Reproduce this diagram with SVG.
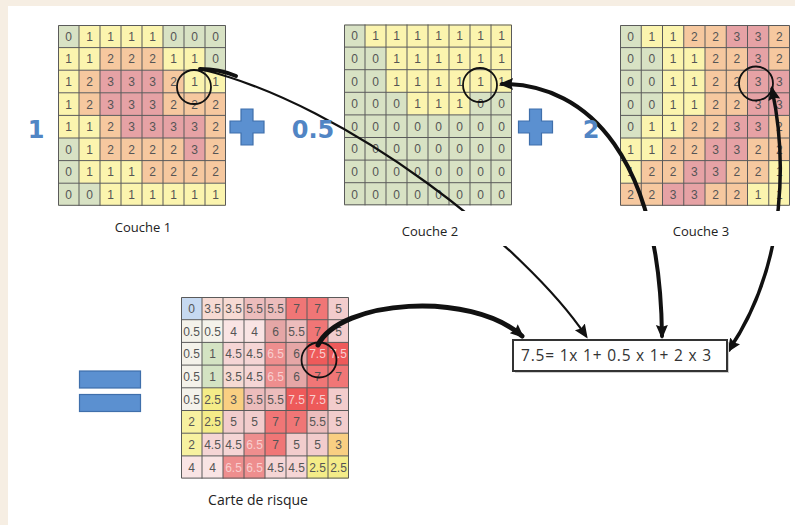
<svg xmlns="http://www.w3.org/2000/svg" width="795" height="525" viewBox="0 0 795 525">
<defs>
<style>
.c0{fill:#d8e2c4}.c1{fill:#fbf4ae}.c2{fill:#f6c89f}.c3{fill:#e6a2a5}
.r0{fill:#c6d9f1}.r05{fill:#f4f2ea}.r1{fill:#d4e3c3}.r2{fill:#f7f1a0}.r25{fill:#f4ec88}.r3{fill:#f9cf82}
.r35{fill:#f6dad3}.r4{fill:#f9e4e4}.r45{fill:#f5d5d5}.r5{fill:#f2cccc}.r55{fill:#ecbcbc}.r6{fill:#e5a6a6}
.r65{fill:#ee8e8e}.r7{fill:#f07676}.r75{fill:#ee5a5a}
.gl{fill:none;stroke:#5a5a5a;stroke-width:1}
.n{font-family:"Liberation Sans",Arial,sans-serif;font-size:12px;fill:#555;text-anchor:middle}
.lt{fill:#f8cfcf}
.lab{font-family:"Open Sans","Liberation Sans",sans-serif;font-size:13px;fill:#222;text-anchor:middle}
.big{font-family:"DejaVu Sans",sans-serif;font-weight:bold;font-size:24px;fill:#5185c4;text-anchor:middle}
.op{fill:#5b90d0;stroke:#3f6fab;stroke-width:1.2}
.circ{fill:none;stroke:#111;stroke-width:1.8}
.con{fill:none;stroke:#111;stroke-linecap:round}
</style>
<marker id="ah" viewBox="0 0 14 14" refX="11" refY="7" markerWidth="14" markerHeight="14" markerUnits="userSpaceOnUse" orient="auto-start-reverse">
<path d="M0,1 L14,7 L0,13 L2,7 z" fill="#111"/>
</marker>
</defs>
<rect x="0" y="0" width="795" height="525" fill="#f6eee3"/>
<rect x="8" y="6" width="787" height="519" fill="#fff"/>

<g id="couche1" transform="translate(58,25)">
<rect class="c0" x="0" y="0" width="21" height="22.6"/><rect class="c1" x="21" y="0" width="84" height="22.6"/><rect class="c0" x="105" y="0" width="63" height="22.6"/>
<rect class="c1" x="0" y="22.6" width="42" height="22.6"/><rect class="c2" x="42" y="22.6" width="63" height="22.6"/><rect class="c1" x="105" y="22.6" width="42" height="22.6"/><rect class="c0" x="147" y="22.6" width="21" height="22.6"/>
<rect class="c1" x="0" y="45.2" width="21" height="22.6"/><rect class="c2" x="21" y="45.2" width="21" height="22.6"/><rect class="c3" x="42" y="45.2" width="63" height="22.6"/><rect class="c2" x="105" y="45.2" width="21" height="22.6"/><rect class="c1" x="126" y="45.2" width="42" height="22.6"/>
<rect class="c1" x="0" y="67.8" width="21" height="22.6"/><rect class="c2" x="21" y="67.8" width="21" height="22.6"/><rect class="c3" x="42" y="67.8" width="63" height="22.6"/><rect class="c2" x="105" y="67.8" width="63" height="22.6"/>
<rect class="c1" x="0" y="90.4" width="42" height="22.6"/><rect class="c2" x="42" y="90.4" width="21" height="22.6"/><rect class="c3" x="63" y="90.4" width="84" height="22.6"/><rect class="c2" x="147" y="90.4" width="21" height="22.6"/>
<rect class="c0" x="0" y="113" width="21" height="22.6"/><rect class="c1" x="21" y="113" width="21" height="22.6"/><rect class="c2" x="42" y="113" width="84" height="22.6"/><rect class="c3" x="126" y="113" width="21" height="22.6"/><rect class="c2" x="147" y="113" width="21" height="22.6"/>
<rect class="c0" x="0" y="135.6" width="21" height="22.6"/><rect class="c1" x="21" y="135.6" width="63" height="22.6"/><rect class="c2" x="84" y="135.6" width="84" height="22.6"/>
<rect class="c0" x="0" y="158.2" width="42" height="22.6"/><rect class="c1" x="42" y="158.2" width="126" height="22.6"/>
<path class="gl" d="M0.5 0.5H167.5V180.3H0.5Z M21 0V180.8M42 0V180.8M63 0V180.8M84 0V180.8M105 0V180.8M126 0V180.8M147 0V180.8 M0 22.6H168M0 45.2H168M0 67.8H168M0 90.4H168M0 113H168M0 135.6H168M0 158.2H168"/>
<text class="n" x="10.5 31.5 52.5 73.5 94.5 115.5 136.5 157.5" y="15.8">01111000</text>
<text class="n" x="10.5 31.5 52.5 73.5 94.5 115.5 136.5 157.5" y="38.4">11222110</text>
<text class="n" x="10.5 31.5 52.5 73.5 94.5 115.5 136.5 157.5" y="61">12333211</text>
<text class="n" x="10.5 31.5 52.5 73.5 94.5 115.5 136.5 157.5" y="83.6">12333222</text>
<text class="n" x="10.5 31.5 52.5 73.5 94.5 115.5 136.5 157.5" y="106.2">11233332</text>
<text class="n" x="10.5 31.5 52.5 73.5 94.5 115.5 136.5 157.5" y="128.8">01222232</text>
<text class="n" x="10.5 31.5 52.5 73.5 94.5 115.5 136.5 157.5" y="151.4">01112222</text>
<text class="n" x="10.5 31.5 52.5 73.5 94.5 115.5 136.5 157.5" y="174">00111111</text>
<circle class="circ" cx="136" cy="62" r="17"/>
</g>

<g id="couche2" transform="translate(344,24.5)">
<rect class="c0" x="0" y="0" width="21" height="22.6"/><rect class="c1" x="21" y="0" width="147" height="22.6"/>
<rect class="c0" x="0" y="22.6" width="42" height="22.6"/><rect class="c1" x="42" y="22.6" width="126" height="22.6"/>
<rect class="c0" x="0" y="45.2" width="42" height="22.6"/><rect class="c1" x="42" y="45.2" width="126" height="22.6"/>
<rect class="c0" x="0" y="67.8" width="63" height="22.6"/><rect class="c1" x="63" y="67.8" width="63" height="22.6"/><rect class="c0" x="126" y="67.8" width="42" height="22.6"/>
<rect class="c0" x="0" y="90.4" width="168" height="90.4"/>
<path class="gl" d="M0.5 0.5H167.5V180.3H0.5Z M21 0V180.8M42 0V180.8M63 0V180.8M84 0V180.8M105 0V180.8M126 0V180.8M147 0V180.8 M0 22.6H168M0 45.2H168M0 67.8H168M0 90.4H168M0 113H168M0 135.6H168M0 158.2H168"/>
<text class="n" x="10.5 31.5 52.5 73.5 94.5 115.5 136.5 157.5" y="15.8">01111111</text>
<text class="n" x="10.5 31.5 52.5 73.5 94.5 115.5 136.5 157.5" y="38.4">00111111</text>
<text class="n" x="10.5 31.5 52.5 73.5 94.5 115.5 136.5 157.5" y="61">00111111</text>
<text class="n" x="10.5 31.5 52.5 73.5 94.5 115.5 136.5 157.5" y="83.6">00011100</text>
<text class="n" x="10.5 31.5 52.5 73.5 94.5 115.5 136.5 157.5" y="106.2">00000000</text>
<text class="n" x="10.5 31.5 52.5 73.5 94.5 115.5 136.5 157.5" y="128.8">00000000</text>
<text class="n" x="10.5 31.5 52.5 73.5 94.5 115.5 136.5 157.5" y="151.4">00000000</text>
<text class="n" x="10.5 31.5 52.5 73.5 94.5 115.5 136.5 157.5" y="174">00000000</text>
<circle class="circ" cx="136" cy="60.5" r="17"/>
</g>

<g id="couche3" transform="translate(620,25)">
<rect class="c0" x="0" y="0" width="21.25" height="22.6"/><rect class="c1" x="21.25" y="0" width="42.5" height="22.6"/><rect class="c2" x="63.75" y="0" width="42.5" height="22.6"/><rect class="c3" x="106.25" y="0" width="42.5" height="22.6"/><rect class="c2" x="148.75" y="0" width="21.25" height="22.6"/>
<rect class="c0" x="0" y="22.6" width="42.5" height="22.6"/><rect class="c1" x="42.5" y="22.6" width="42.5" height="22.6"/><rect class="c2" x="85" y="22.6" width="42.5" height="22.6"/><rect class="c3" x="127.5" y="22.6" width="21.25" height="22.6"/><rect class="c2" x="148.75" y="22.6" width="21.25" height="22.6"/>
<rect class="c0" x="0" y="45.2" width="42.5" height="45.2"/><rect class="c1" x="42.5" y="45.2" width="42.5" height="45.2"/><rect class="c2" x="85" y="45.2" width="42.5" height="45.2"/><rect class="c3" x="127.5" y="45.2" width="42.5" height="45.2"/>
<rect class="c0" x="0" y="90.4" width="21.25" height="22.6"/><rect class="c1" x="21.25" y="90.4" width="42.5" height="22.6"/><rect class="c2" x="63.75" y="90.4" width="42.5" height="22.6"/><rect class="c3" x="106.25" y="90.4" width="42.5" height="22.6"/><rect class="c2" x="148.75" y="90.4" width="21.25" height="22.6"/>
<rect class="c1" x="0" y="113" width="42.5" height="22.6"/><rect class="c2" x="42.5" y="113" width="42.5" height="22.6"/><rect class="c3" x="85" y="113" width="42.5" height="22.6"/><rect class="c2" x="127.5" y="113" width="42.5" height="22.6"/>
<rect class="c1" x="0" y="135.6" width="21.25" height="22.6"/><rect class="c2" x="21.25" y="135.6" width="42.5" height="22.6"/><rect class="c3" x="63.75" y="135.6" width="42.5" height="22.6"/><rect class="c2" x="106.25" y="135.6" width="42.5" height="22.6"/><rect class="c1" x="148.75" y="135.6" width="21.25" height="22.6"/>
<rect class="c2" x="0" y="158.2" width="42.5" height="22.6"/><rect class="c3" x="42.5" y="158.2" width="42.5" height="22.6"/><rect class="c2" x="85" y="158.2" width="42.5" height="22.6"/><rect class="c1" x="127.5" y="158.2" width="42.5" height="22.6"/>
<path class="gl" d="M0.5 0.5H169.5V180.3H0.5Z M21.25 0V180.8M42.5 0V180.8M63.75 0V180.8M85 0V180.8M106.25 0V180.8M127.5 0V180.8M148.75 0V180.8 M0 22.6H170M0 45.2H170M0 67.8H170M0 90.4H170M0 113H170M0 135.6H170M0 158.2H170"/>
<text class="n" x="10.6 31.9 53.1 74.4 95.6 116.9 138.1 159.4" y="15.8">01122332</text>
<text class="n" x="10.6 31.9 53.1 74.4 95.6 116.9 138.1 159.4" y="38.4">00112232</text>
<text class="n" x="10.6 31.9 53.1 74.4 95.6 116.9 138.1 159.4" y="61">00112233</text>
<text class="n" x="10.6 31.9 53.1 74.4 95.6 116.9 138.1 159.4" y="83.6">00112233</text>
<text class="n" x="10.6 31.9 53.1 74.4 95.6 116.9 138.1 159.4" y="106.2">01122332</text>
<text class="n" x="10.6 31.9 53.1 74.4 95.6 116.9 138.1 159.4" y="128.8">11223322</text>
<text class="n" x="10.6 31.9 53.1 74.4 95.6 116.9 138.1 159.4" y="151.4">12233221</text>
<text class="n" x="10.6 31.9 53.1 74.4 95.6 116.9 138.1 159.4" y="174">22332211</text>
<circle class="circ" cx="136" cy="58.5" r="17"/>
</g>

<g id="carte" transform="translate(181,297)">
<rect class="r0" x="0" y="0" width="21" height="22.7"/><rect class="r35" x="21" y="0" width="42" height="22.7"/><rect class="r55" x="63" y="0" width="42" height="22.7"/><rect class="r7" x="105" y="0" width="42" height="22.7"/><rect class="r5" x="147" y="0" width="21" height="22.7"/>
<rect class="r05" x="0" y="22.7" width="42" height="22.7"/><rect class="r4" x="42" y="22.7" width="42" height="22.7"/><rect class="r6" x="84" y="22.7" width="21" height="22.7"/><rect class="r55" x="105" y="22.7" width="21" height="22.7"/><rect class="r7" x="126" y="22.7" width="21" height="22.7"/><rect class="r5" x="147" y="22.7" width="21" height="22.7"/>
<rect class="r05" x="0" y="45.4" width="21" height="22.7"/><rect class="r1" x="21" y="45.4" width="21" height="22.7"/><rect class="r45" x="42" y="45.4" width="42" height="22.7"/><rect class="r65" x="84" y="45.4" width="21" height="22.7"/><rect class="r6" x="105" y="45.4" width="21" height="22.7"/><rect class="r75" x="126" y="45.4" width="42" height="22.7"/>
<rect class="r05" x="0" y="68.1" width="21" height="22.7"/><rect class="r1" x="21" y="68.1" width="21" height="22.7"/><rect class="r35" x="42" y="68.1" width="21" height="22.7"/><rect class="r45" x="63" y="68.1" width="21" height="22.7"/><rect class="r65" x="84" y="68.1" width="21" height="22.7"/><rect class="r6" x="105" y="68.1" width="21" height="22.7"/><rect class="r7" x="126" y="68.1" width="42" height="22.7"/>
<rect class="r05" x="0" y="90.8" width="21" height="22.7"/><rect class="r25" x="21" y="90.8" width="21" height="22.7"/><rect class="r3" x="42" y="90.8" width="21" height="22.7"/><rect class="r55" x="63" y="90.8" width="42" height="22.7"/><rect class="r75" x="105" y="90.8" width="42" height="22.7"/><rect class="r5" x="147" y="90.8" width="21" height="22.7"/>
<rect class="r2" x="0" y="113.5" width="21" height="22.7"/><rect class="r25" x="21" y="113.5" width="21" height="22.7"/><rect class="r5" x="42" y="113.5" width="42" height="22.7"/><rect class="r7" x="84" y="113.5" width="42" height="22.7"/><rect class="r55" x="126" y="113.5" width="21" height="22.7"/><rect class="r5" x="147" y="113.5" width="21" height="22.7"/>
<rect class="r2" x="0" y="136.2" width="21" height="22.7"/><rect class="r45" x="21" y="136.2" width="42" height="22.7"/><rect class="r65" x="63" y="136.2" width="21" height="22.7"/><rect class="r7" x="84" y="136.2" width="21" height="22.7"/><rect class="r5" x="105" y="136.2" width="42" height="22.7"/><rect class="r3" x="147" y="136.2" width="21" height="22.7"/>
<rect class="r4" x="0" y="158.9" width="42" height="22.7"/><rect class="r65" x="42" y="158.9" width="42" height="22.7"/><rect class="r45" x="84" y="158.9" width="42" height="22.7"/><rect class="r25" x="126" y="158.9" width="42" height="22.7"/>
<path class="gl" d="M0.5 0.5H167.5V181.1H0.5Z M21 0V181.6M42 0V181.6M63 0V181.6M84 0V181.6M105 0V181.6M126 0V181.6M147 0V181.6 M0 22.7H168M0 45.4H168M0 68.1H168M0 90.8H168M0 113.5H168M0 136.2H168M0 158.9H168"/>
<text class="n" y="15.8"><tspan x="10.5">0</tspan><tspan x="31.5">3.5</tspan><tspan x="52.5">3.5</tspan><tspan x="73.5">5.5</tspan><tspan x="94.5">5.5</tspan><tspan x="115.5">7</tspan><tspan x="136.5">7</tspan><tspan x="157.5">5</tspan></text>
<text class="n" y="38.5"><tspan x="10.5">0.5</tspan><tspan x="31.5">0.5</tspan><tspan x="52.5">4</tspan><tspan x="73.5">4</tspan><tspan x="94.5">6</tspan><tspan x="115.5">5.5</tspan><tspan x="136.5">7</tspan><tspan x="157.5">5</tspan></text>
<text class="n" y="61.2"><tspan x="10.5">0.5</tspan><tspan x="31.5">1</tspan><tspan x="52.5">4.5</tspan><tspan x="73.5">4.5</tspan><tspan class="lt" x="94.5">6.5</tspan><tspan x="115.5">6</tspan><tspan class="lt" x="136.5">7.5</tspan><tspan class="lt" x="157.5">7.5</tspan></text>
<text class="n" y="83.9"><tspan x="10.5">0.5</tspan><tspan x="31.5">1</tspan><tspan x="52.5">3.5</tspan><tspan x="73.5">4.5</tspan><tspan class="lt" x="94.5">6.5</tspan><tspan x="115.5">6</tspan><tspan x="136.5">7</tspan><tspan x="157.5">7</tspan></text>
<text class="n" y="106.6"><tspan x="10.5">0.5</tspan><tspan x="31.5">2.5</tspan><tspan x="52.5">3</tspan><tspan x="73.5">5.5</tspan><tspan x="94.5">5.5</tspan><tspan class="lt" x="115.5">7.5</tspan><tspan class="lt" x="136.5">7.5</tspan><tspan x="157.5">5</tspan></text>
<text class="n" y="129.3"><tspan x="10.5">2</tspan><tspan x="31.5">2.5</tspan><tspan x="52.5">5</tspan><tspan x="73.5">5</tspan><tspan x="94.5">7</tspan><tspan x="115.5">7</tspan><tspan x="136.5">5.5</tspan><tspan x="157.5">5</tspan></text>
<text class="n" y="152"><tspan x="10.5">2</tspan><tspan x="31.5">4.5</tspan><tspan x="52.5">4.5</tspan><tspan class="lt" x="73.5">6.5</tspan><tspan x="94.5">7</tspan><tspan x="115.5">5</tspan><tspan x="136.5">5</tspan><tspan x="157.5">3</tspan></text>
<text class="n" y="174.7"><tspan x="10.5">4</tspan><tspan x="31.5">4</tspan><tspan class="lt" x="52.5">6.5</tspan><tspan class="lt" x="73.5">6.5</tspan><tspan x="94.5">4.5</tspan><tspan x="115.5">4.5</tspan><tspan x="136.5">2.5</tspan><tspan x="157.5">2.5</tspan></text>
<circle class="circ" cx="138" cy="63" r="17.5"/>
</g>

<g id="connecteurs">
<path class="con" d="M200,69 C350,105 527,248 586,336" stroke-width="2.2" marker-end="url(#ah)"/>
<path class="con" d="M200,69 C212,69 224,71 236,76" stroke-width="4"/>
<path class="con" d="M502,84 C590,84 660,160 662,336" stroke-width="4" marker-start="url(#ah)" marker-end="url(#ah)"/>
<path class="con" d="M772,89 C785,150 790,260 729,350" stroke-width="3.5" marker-start="url(#ah)" marker-end="url(#ah)"/>
<path class="con" d="M318,345 C340,300 470,290 522,336" stroke-width="5" marker-end="url(#ah)"/>
</g>

<rect x="8" y="211" width="787" height="35" fill="#fff"/>

<g id="labels">
<text class="lab" x="143" y="232">Couche 1</text>
<text class="lab" x="430" y="236">Couche 2</text>
<text class="lab" x="701" y="236">Couche 3</text>
<text class="lab" x="258" y="505" style="font-size:14px">Carte de risque</text>
</g>

<g id="coefficients">
<text class="big" x="36" y="138">1</text>
<text class="big" x="313" y="138">0.5</text>
<text class="big" x="591" y="138">2</text>
</g>
<g id="plus1"><path class="op" d="M241,109 H253 V121 H264 V133 H253 V145 H241 V133 H230 V121 H241 Z"/></g>
<g id="plus2"><path class="op" d="M529.5,109 H541.5 V121 H552.5 V133 H541.5 V145 H529.5 V133 H518.5 V121 H529.5 Z"/></g>
<g id="egal">
<rect class="op" x="79.5" y="371" width="61" height="17"/>
<rect class="op" x="79.5" y="394.5" width="61" height="17"/>
</g>

<g id="equation">
<rect x="515" y="342" width="214" height="31" fill="#cfcfcf"/>
<rect x="513" y="340" width="214" height="31" fill="#fff" stroke="#333" stroke-width="2"/>
<text x="521" y="361" style="font-family:'Open Sans','Liberation Sans',sans-serif;font-size:15.5px;fill:#333" textLength="190">7.5= 1x 1+ 0.5 x 1+ 2 x 3</text>
</g>
</svg>
